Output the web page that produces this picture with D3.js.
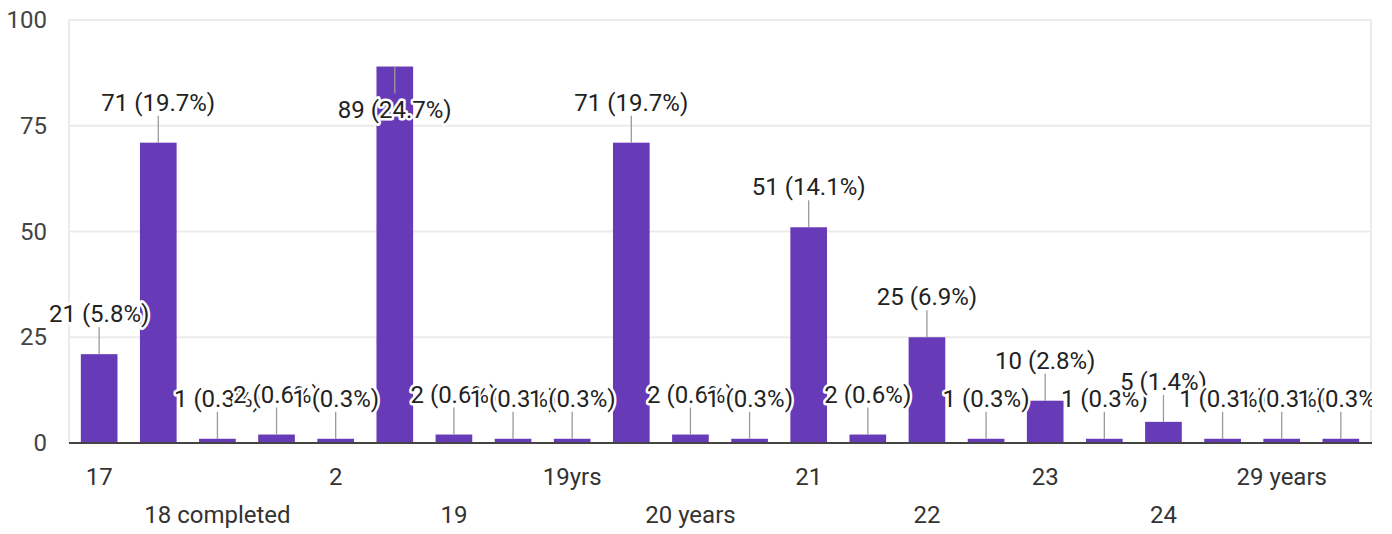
<!DOCTYPE html>
<html>
<head>
<meta charset="utf-8">
<script src="https://cdn.jsdelivr.net/npm/d3@7"></script>
<style>
  body { margin: 0; background: #fff; }
  text { font-family: Roboto, "Liberation Sans", Arial, sans-serif; }
</style>
</head>
<body>
<script>
// answers (age) and counts
var categories = ["17","18","18 completed","18 years","2","19","19 ","19 years","19yrs","20","20 years","20yrs","21","21 years","22","22 years","23","23 years","24","25","29 years","30"];
var counts = [21,71,1,2,1,89,2,1,1,71,2,1,51,2,25,1,10,1,5,1,1,1];
var yTicks = [0,25,50,75,100];

var W = 1392, H = 534;
var margin = {top: 20, right: 21, bottom: 91, left: 69};
var width = W - margin.left - margin.right,
    height = H - margin.top - margin.bottom;

var total = d3.sum(counts);
var fmtPct = d3.format(".1f");

var svg = d3.select("body").append("svg")
    .attr("width", W)
    .attr("height", H);

// clip for labels on the right edge
svg.append("clipPath").attr("id", "clip-right")
    .append("rect")
    .attr("x", 0).attr("y", 0)
    .attr("width", margin.left + width + 1).attr("height", H);

var plot = svg.append("g")
    .attr("transform", "translate(" + margin.left + "," + margin.top + ")");

var xScale = d3.scaleBand()
    .domain(d3.range(categories.length))
    .range([0, width])
    .paddingInner(0.38)
    .paddingOuter(0.2);

var yScale = d3.scaleLinear()
    .domain([0, 100])
    .range([height, 0]);

// gridlines
plot.append("g")
    .selectAll("line")
    .data(yTicks.slice(1))
    .enter()
    .append("line")
    .attr("x1", 0).attr("x2", width)
    .attr("y1", function(d) { return yScale(d); })
    .attr("y2", function(d) { return yScale(d); })
    .style("stroke", "#ebebeb")
    .style("stroke-width", 2);

// side frame lines
[0, width].forEach(function(xx) {
    plot.append("line")
        .attr("x1", xx).attr("x2", xx)
        .attr("y1", 0).attr("y2", height)
        .style("stroke", "#ebebeb")
        .style("stroke-width", 2);
});

// y axis labels
var yAxis = plot.append("g")
    .call(d3.axisLeft(yScale).tickValues(yTicks).tickSize(0).tickPadding(22));
yAxis.select(".domain").remove();
yAxis.selectAll("text")
    .style("font-size", "24px")
    .style("font-family", "Roboto, 'Liberation Sans', Arial, sans-serif")
    .attr("fill", "#444");

// bars
plot.append("g")
    .selectAll("rect")
    .data(counts)
    .enter()
    .append("rect")
    .attr("x", function(d, i) { return xScale(i); })
    .attr("y", function(d) { return yScale(d); })
    .attr("width", xScale.bandwidth())
    .attr("height", function(d) { return height - yScale(d); })
    .style("fill", "#673ab7");

// baseline
plot.append("line")
    .attr("x1", 0).attr("x2", width + 1)
    .attr("y1", height).attr("y2", height)
    .style("stroke", "#444")
    .style("stroke-width", 2);

// x axis labels, only every other one shown, on two rows
var xAxis = plot.append("g")
    .attr("transform", "translate(0," + height + ")")
    .call(d3.axisBottom(xScale).tickSize(0).tickFormat(function(i) { return categories[i]; }));
xAxis.select(".domain").remove();
xAxis.selectAll(".tick")
    .filter(function(i) { return i % 2 == 1; })
    .remove();
xAxis.selectAll("text")
    .attr("y", function(i) { return (i / 2) % 2 == 0 ? 42 : 80; })
    .attr("dy", 0)
    .style("font-size", "24px")
    .style("font-family", "Roboto, 'Liberation Sans', Arial, sans-serif")
    .attr("fill", "#333");

// leader lines and value labels
var lineLen = 27, gap = 5, capH = 17;
var labels = svg.append("g")
    .attr("clip-path", "url(#clip-right)")
    .append("g")
    .attr("transform", "translate(" + margin.left + "," + margin.top + ")");

function labelPos(v, i) {
    var cx = xScale(i) + xScale.bandwidth() / 2;
    var top = yScale(v);
    // no room above -> put the label inside the bar
    var inside = top - lineLen - gap - capH < 0;
    var lineEnd = inside ? top + lineLen : top - lineLen;
    var base = inside ? lineEnd + gap + capH + 2 : lineEnd - gap;
    return {cx: cx, top: top, lineEnd: lineEnd, base: base};
}

counts.forEach(function(v, i) {
    var p = labelPos(v, i);
    labels.append("line")
        .attr("x1", p.cx).attr("x2", p.cx)
        .attr("y1", p.top).attr("y2", p.lineEnd)
        .style("stroke", "#9a9a9a")
        .style("stroke-width", 1.3);
});

counts.forEach(function(v, i) {
    var p = labelPos(v, i);
    labels.append("text")
        .attr("x", p.cx)
        .attr("y", p.base)
        .attr("text-anchor", "middle")
        .style("font-size", "24px")
        .style("fill", "#222")
        .style("stroke", "#fff")
        .style("stroke-width", 5)
        .style("stroke-linejoin", "round")
        .style("paint-order", "stroke")
        .text(v + " (" + fmtPct(v / total * 100) + "%)");
});
</script>
</body>
</html>
